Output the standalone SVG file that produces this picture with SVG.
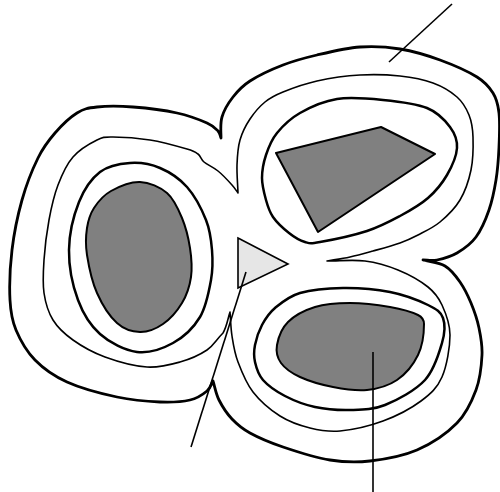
<svg xmlns="http://www.w3.org/2000/svg" width="500" height="492" viewBox="0 0 500 492">
<style>
.c{fill:none;stroke:#000;stroke-linejoin:round;stroke-linecap:round}
.l1{stroke-width:2.8}
.l2{stroke-width:1.6}
.l3{stroke-width:2.5}
.blob{fill:#808080;stroke:#000;stroke-width:2;stroke-linejoin:round}
.lead{stroke:#000;stroke-width:1.6;fill:none;stroke-linecap:butt}
</style>
<rect width="500" height="492" fill="#fff"/>
<g id="outer">
<path class="c l1" d="M221,138 C221,131 220,123.8 222,117 C224,110.2 228.3,103 233,97 C237.7,91 241.7,86.3 250,81 C258.3,75.7 271.8,69.3 283,65 C294.2,60.7 304.2,58 317,55 C329.8,52 346.2,48 360,47 C373.8,46 386.7,46.8 400,49 C413.3,51.2 427.2,55.3 440,60 C452.8,64.7 468.2,71.5 477,77 C485.8,82.5 489.3,87 493,93 C496.7,99 498,104 499,113 C500,122 499.5,135.8 499,147 C498.5,158.2 497.7,169.5 496,180 C494.3,190.5 492.3,200.5 489,210 C485.7,219.5 481.3,229.8 476,237 C470.7,244.2 463.5,249.2 457,253 C450.5,256.8 442.7,258.8 437,260 C431.3,261.2 427.7,260 423,260 C430.3,262 438.8,262.3 445,266 C451.2,269.7 455.7,275.8 460,282 C464.3,288.2 467.8,295.3 471,303 C474.2,310.7 477.2,319.3 479,328 C480.8,336.7 482.5,344.7 482,355 C481.5,365.3 480.2,378.7 476,390 C471.8,401.3 466.8,413 457,423 C447.2,433 431.5,443.7 417,450 C402.5,456.3 384.5,459.3 370,461 C355.5,462.7 344.5,462.3 330,460 C315.5,457.7 296.3,451.5 283,447 C269.7,442.5 258.5,437.7 250,433 C241.5,428.3 237.2,424.5 232,419 C226.8,413.5 222.2,406.3 219,400 C215.8,393.7 215,387.3 213,381 C211,384.3 210.8,387.8 207,391 C203.2,394.2 197.8,398.2 190,400 C182.2,401.8 172.2,402.5 160,402 C147.8,401.5 132.5,400.3 117,397 C101.5,393.7 80.7,388.2 67,382 C53.3,375.8 43.5,368.7 35,360 C26.5,351.3 20.2,340 16,330 C11.8,320 10.7,313.3 10,300 C9.3,286.7 10,266.7 12,250 C14,233.3 17.7,215.3 22,200 C26.3,184.7 32.5,169.2 38,158 C43.5,146.8 48.5,140.5 55,133 C61.5,125.5 70,117.3 77,113 C84,108.7 87.7,108 97,107 C106.3,106 119.7,106 133,107 C146.3,108 164.7,110.3 177,113 C189.3,115.7 200.2,120 207,123 C213.8,126 215.7,128.5 218,131 C220.3,133.5 220,135.7 221,138 Z"/>
</g>
<g id="middle">
<path class="c l2" d="M238,193 C236,190.3 235.3,188.7 232,185 C228.7,181.3 222.7,174.8 218,171 C213.3,167.2 207.3,164.8 204,162 C200.7,159.2 200.8,156.2 198,154 C195.2,151.8 195,151.3 187,149 C179,146.7 162.3,142 150,140 C137.7,138 121.8,137 113,137 C104.2,137 103.7,136.7 97,140 C90.3,143.3 79.5,149.5 73,157 C66.5,164.5 62,174.5 58,185 C54,195.5 51.3,207.5 49,220 C46.7,232.5 44.8,247.8 44,260 C43.2,272.2 42.5,283 44,293 C45.5,303 48.2,312.2 53,320 C57.8,327.8 64.3,333.8 73,340 C81.7,346.2 92.7,352.5 105,357 C117.3,361.5 134.5,366.2 147,367 C159.5,367.8 170,364.8 180,362 C190,359.2 199.8,354.8 207,350 C214.2,345.2 214.7,341.3 223,333 C226.8,326.7 227.7,319 230,312 C230.7,320 230.7,327.7 232,336 C233.3,344.3 234.5,352.7 238,362 C241.5,371.3 246,383 253,392 C260,401 270.5,410 280,416 C289.5,422 300,425.5 310,428 C320,430.5 327.8,432.2 340,431 C352.2,429.8 369.5,426 383,421 C396.5,416 411.2,408.3 421,401 C430.8,393.7 437.2,388 442,377 C446.8,366 450,347 450,335 C450,323 445.7,313 442,305 C438.3,297 435.3,292.8 428,287 C420.7,281.2 408.5,274.3 398,270 C387.5,265.7 376.8,262.5 365,261 C353.2,259.5 339.7,261 327,261 C334.7,259.7 342.3,258.7 350,257 C357.7,255.3 364.7,253.3 373,251 C381.3,248.7 392.5,245.7 400,243 C407.5,240.3 411.3,238.5 418,235 C424.7,231.5 433,227.8 440,222 C447,216.2 454.8,208.7 460,200 C465.2,191.3 468.8,180.5 471,170 C473.2,159.5 473.3,146.2 473,137 C472.7,127.8 471.7,121.7 469,115 C466.3,108.3 463,102.3 457,97 C451,91.7 442.5,86.5 433,83 C423.5,79.5 412.2,77.3 400,76 C387.8,74.7 373.8,74.2 360,75 C346.2,75.8 329.8,78.2 317,81 C304.2,83.8 291.7,88.5 283,92 C274.3,95.5 270.5,97.5 265,102 C259.5,106.5 254.2,112.7 250,119 C245.8,125.3 242.2,132.3 240,140 C237.8,147.7 237.3,156.2 237,165 C236.7,173.8 237.7,183.7 238,193 Z"/>
</g>
<g id="left-lobe">
<path class="c l3" d="M130,163 C140,162.3 150.5,164 160,168 C169.5,172 179.3,178.3 187,187 C194.7,195.7 201.8,209.5 206,220 C210.2,230.5 211.2,240 212,250 C212.8,260 213,268.8 211,280 C209,291.2 206.3,306.5 200,317 C193.7,327.5 183.5,337.2 173,343 C162.5,348.8 149.2,353.5 137,352 C124.8,350.5 109.8,342.7 100,334 C90.2,325.3 83.2,314 78,300 C72.8,286 68.8,266.3 69,250 C69.2,233.7 73.8,215 79,202 C84.2,189 91.5,178.5 100,172 C108.5,165.5 120,163.7 130,163 Z"/>
<path class="blob" d="M140,182 C149.3,182.3 160,187 167,193 C174,199 178.2,208.8 182,218 C185.8,227.2 188.5,238.2 190,248 C191.5,257.8 192.3,267.8 191,277 C189.7,286.2 186.7,295.2 182,303 C177.3,310.8 170,319.2 163,324 C156,328.8 147.7,332.2 140,332 C132.3,331.8 124.2,329.5 117,323 C109.8,316.5 102,304.3 97,293 C92,281.7 88.7,265.8 87,255 C85.3,244.2 85.8,235.8 87,228 C88.2,220.2 90,214.2 94,208 C98,201.8 103.3,195.3 111,191 C118.7,186.7 130.7,181.7 140,182 Z"/>
</g>
<g id="top-right-lobe">
<path class="c l3" d="M262,178 C262,170.5 263.5,162.5 266,155 C268.5,147.5 271.3,140 277,133 C282.7,126 290,118.7 300,113 C310,107.3 323.2,101.2 337,99 C350.8,96.8 368,98.5 383,100 C398,101.5 415.8,103.5 427,108 C438.2,112.5 445,120.3 450,127 C455,133.7 457.5,140 457,148 C456.5,156 451.8,166.7 447,175 C442.2,183.3 435.8,191.2 428,198 C420.2,204.8 410.2,210.5 400,216 C389.8,221.5 380.3,226.7 367,231 C353.7,235.3 330.3,240.2 320,242 C309.7,243.8 310.2,243.5 305,242 C299.8,240.5 294.3,237.2 289,233 C283.7,228.8 276.8,222.5 273,217 C269.2,211.5 267.8,206.5 266,200 C264.2,193.5 262,185.5 262,178 Z"/>
<polygon class="blob" stroke-width="1.6" points="276,153 381,127 435,154 318,232"/>
</g>
<g id="bottom-lobe">
<path class="c l3" d="M255,345 C256.2,338.8 258.7,331.2 262,325 C265.3,318.8 268.7,313.3 275,308 C281.3,302.7 288.7,296.3 300,293 C311.3,289.7 328,288.2 343,288 C358,287.8 375.8,289.2 390,292 C404.2,294.8 419.2,300.7 428,305 C436.8,309.3 440.7,311.7 443,318 C445.3,324.3 445,332.7 442,343 C439,353.3 434.5,369.7 425,380 C415.5,390.3 397.5,400 385,405 C372.5,410 361.7,409.7 350,410 C338.3,410.3 325.8,409.3 315,407 C304.2,404.7 293.7,400.5 285,396 C276.3,391.5 268,385.7 263,380 C258,374.3 256.3,367.8 255,362 C253.7,356.2 253.8,351.2 255,345 Z"/>
<path class="blob" d="M277,345 C278.2,338.2 281.7,328.3 288,322 C294.3,315.7 304.7,310.2 315,307 C325.3,303.8 337.5,303 350,303 C362.5,303 378.7,305 390,307 C401.3,309 412.3,312.2 418,315 C422,317 424,319 424,324 C424,333 422.5,345.7 418,355 C413.5,364.3 405.5,374.2 397,380 C388.5,385.8 377.7,388.8 367,390 C356.3,391.2 344.2,389.2 333,387 C321.8,384.8 308.7,381 300,377 C291.3,373 284.8,368.3 281,363 C277.2,357.7 275.8,351.8 277,345 Z"/>
</g>
<g id="triangle">
<polygon points="238,238 288,264 238,288" fill="#e6e6e6" stroke="#000" stroke-width="1.6" stroke-linejoin="miter"/>
</g>
<g id="connectors">
<line class="lead" x1="452" y1="4" x2="389" y2="62"/>
<line class="lead" x1="246" y1="272" x2="191" y2="447"/>
<line class="lead" x1="373" y1="352" x2="373" y2="492"/>
</g>
</svg>
